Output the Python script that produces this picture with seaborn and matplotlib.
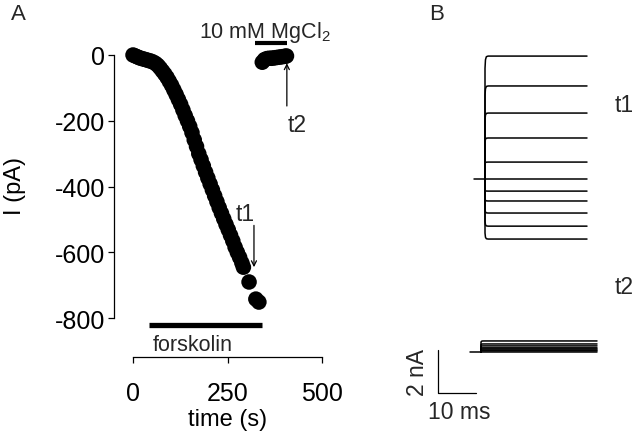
import numpy as np
import pandas as pd
import matplotlib
matplotlib.use("Agg")
import matplotlib.pyplot as plt
import seaborn as sns

# ---------------- data ----------------
# Panel A: whole-cell current (pA) vs time (s)
time_s = [0, 6, 12, 18, 24, 30, 36, 42, 48, 54, 60, 66, 72, 78, 84, 90, 96, 102,
          108, 114, 120, 126, 132, 138, 144, 150, 156, 162, 168, 174, 180, 186,
          192, 198, 204, 210, 216, 222, 228, 234, 240, 246, 252, 258, 264, 270,
          276, 282, 288, 292, 307, 325, 333]
current_pA = [0, -3, -6, -9, -11, -13, -15, -17, -19, -22, -26, -32, -40, -49,
              -58, -68, -80, -92, -106, -120, -135, -150, -167, -184, -200, -217,
              -236, -258, -278, -300, -318, -337, -356, -374, -392, -410, -428,
              -446, -464, -481, -498, -515, -531, -548, -565, -584, -600, -615,
              -632, -645, -690, -742, -751]
mg_time_s = [342, 348, 354, 360, 366, 372, 378, 384, 390, 396, 402, 406]
mg_current_pA = [-22, -14, -11, -10, -10, -9, -8, -7, -6, -5, -4, -3]
forskolin_span = (42, 341)
mgcl2_span = (323, 407)
t1_time, t2_time = 320, 407
x_ticks = [0, 250, 500]
y_ticks = [0, -200, -400, -600, -800]

# Panel B: current traces (nA, relative to holding current)
t1_levels = [5.72, 4.33, 3.07, 1.91, 0.79, 0.0, -0.56, -1.02, -1.58, -2.19, -2.79]
t2_levels = [0.51, 0.37, 0.28, 0.19, 0.14, 0.09, 0.05, 0.0]
scale_ms, scale_nA = 10, 2

# ---------------- figure ----------------
sns.set_theme(style="white")
plt.rcParams["font.family"] = ["Liberation Sans", "DejaVu Sans"]
plt.rcParams["axes.linewidth"] = 0.9

W, H = 640, 435
fig = plt.figure(figsize=(W / 100, H / 100), dpi=100)


def fx(px):
    return px / W


def fy(py):
    return 1 - py / H


# ---- Panel A ----
axA = fig.add_axes([fx(114), fy(358), fx(340) - fx(114), fy(20) - fy(358)])
axA.set_facecolor("none")
dfA = pd.DataFrame({"time": time_s + mg_time_s, "I": current_pA + mg_current_pA})
sns.scatterplot(data=dfA, x="time", y="I", ax=axA, s=125, color="black",
                edgecolor="none", linewidth=0, legend=False)
axA.set_xlim(-50.3, 547.6)
axA.set_ylim(-918, 109.4)

for s in ["top", "right"]:
    axA.spines[s].set_visible(False)
axA.spines["left"].set_bounds(-800, 0)
axA.spines["bottom"].set_bounds(0, 500)
for s in ["left", "bottom"]:
    axA.spines[s].set_color("black")
axA.set_xticks(x_ticks)
axA.set_yticks(y_ticks)
axA.set_yticklabels([str(v) for v in y_ticks])
axA.tick_params(axis="both", which="major", direction="out", length=4.5,
                width=0.9, color="black", labelsize=18, labelcolor="black",
                bottom=True, left=True)
axA.tick_params(axis="y", pad=2)
axA.tick_params(axis="x", pad=13)
axA.set_xlabel("time (s)", fontsize=17, color="black")
axA.set_ylabel("I (pA)", fontsize=17, color="black")
axA.xaxis.set_label_coords(0.504, -0.152)
axA.yaxis.set_label_coords(-0.39, 0.51)

# bars
axA.plot(forskolin_span, [-820, -820], color="black", lw=3.8,
         solid_capstyle="butt")
axA.plot(mgcl2_span, [36, 36], color="black", lw=3.0, solid_capstyle="butt")

# arrows
axA.annotate("", xy=(t1_time, -645), xytext=(t1_time, -518),
             arrowprops=dict(arrowstyle="->", lw=0.9, color="black",
                             mutation_scale=9, shrinkA=0, shrinkB=0))
axA.annotate("", xy=(t2_time, -25), xytext=(t2_time, -155),
             arrowprops=dict(arrowstyle="->", lw=0.9, color="black",
                             mutation_scale=9, shrinkA=0, shrinkB=0))

fig.text(fx(245), fy(215), "t1", fontsize=16.5, ha="center", va="center")
fig.text(fx(297), fy(125), "t2", fontsize=16.5, ha="center", va="center")
fig.text(fx(265), fy(38), r"10 mM MgCl$_\mathregular{2}$", fontsize=15.5,
         ha="center", va="baseline")
fig.text(fx(193), fy(351), "forskolin", fontsize=15.5, ha="center",
         va="baseline")
fig.text(fx(18), fy(15), "A", fontsize=16, ha="center", va="center")
fig.text(fx(437), fy(15), "B", fontsize=16, ha="center", va="center")

# ---- Panel B ----
axB = fig.add_axes([fx(400), fy(420), fx(620) - fx(400), fy(40) - fy(420)])
axB.set_facecolor("none")
axB.set_xlim(0, 220 / 3.85)
axB.set_ylim(0, 380 / 21.5)
axB.axis("off")

rows = []


def add_family(name, levels, base, start, end, hold_start):
    for i, d in enumerate(levels):
        xs = [start, start, start + 0.12, start + 0.35, start + 0.8, end]
        ys = [base, base + 0.9 * d, base + 0.97 * d, base + 0.995 * d,
              base + d, base + d]
        for x, y in zip(xs, ys):
            rows.append({"ms": x, "nA": y, "trace": f"{name}_{i}"})
    rows.append({"ms": hold_start, "nA": base, "trace": f"{name}_hold"})
    rows.append({"ms": start, "nA": base, "trace": f"{name}_hold"})


add_family("t1", t1_levels, 11.16, 22.08, 48.57, 19.2)
add_family("t2", t2_levels, 3.12, 21.04, 51.17, 18.2)
dfB = pd.DataFrame(rows)
sns.lineplot(data=dfB, x="ms", y="nA", units="trace", estimator=None,
             sort=False, color="black", lw=1.1, ax=axB, legend=False)
axB.set_xlabel("")
axB.set_ylabel("")

# scale bar
sx0, sy0 = 9.87, 1.21
axB.plot([sx0, sx0, sx0 + scale_ms], [sy0 + scale_nA, sy0, sy0], color="black",
         lw=0.9)

fig.text(fx(417), fy(372), f"{scale_nA} nA", fontsize=16.5, rotation=90,
         ha="center", va="center")
fig.text(fx(459), fy(413), f"{scale_ms} ms", fontsize=16.5, ha="center",
         va="center")
fig.text(fx(624), fy(105), "t1", fontsize=16.5, ha="center", va="center")
fig.text(fx(624), fy(288), "t2", fontsize=16.5, ha="center", va="center")

fig.savefig("out.png", dpi=100, facecolor="white")
